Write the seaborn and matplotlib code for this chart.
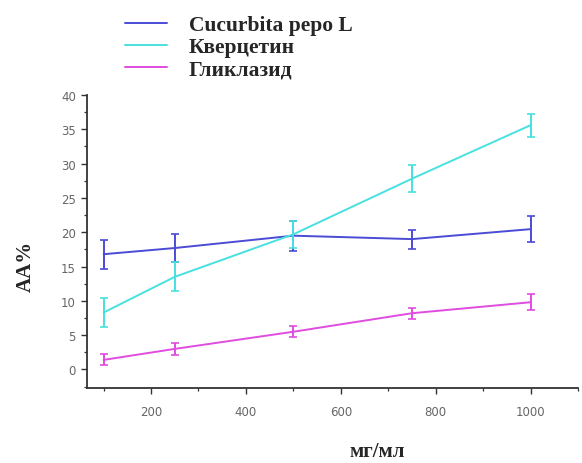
import matplotlib
matplotlib.use("Agg")
import matplotlib.pyplot as plt
import seaborn as sns
import pandas as pd
from matplotlib.ticker import MultipleLocator

# ---- data ----
conc = [100, 250, 500, 750, 1000]
series_names = ["Cucurbita pepo L", "Кверцетин", "Гликлазид"]
cucurbita = [16.8, 17.7, 19.5, 19.0, 20.45]
cucurbita_err = [2.1, 2.0, 2.2, 1.4, 1.9]
quercetin = [8.3, 13.5, 19.7, 27.8, 35.6]
quercetin_err = [2.1, 2.1, 2.0, 2.0, 1.7]
gliclazide = [1.4, 3.0, 5.5, 8.2, 9.8]
gliclazide_err = [0.8, 0.85, 0.8, 0.8, 1.2]
colors = ["#4b4bd6", "#48e0e0", "#e04ce0"]
x_label = "мг/мл"
y_label = "AA%"

values = [cucurbita, quercetin, gliclazide]
errors = [cucurbita_err, quercetin_err, gliclazide_err]

rows = []
for name, vals, errs in zip(series_names, values, errors):
    for c, v, e in zip(conc, vals, errs):
        rows.append({"conc": c, "aa": v, "err": e, "series": name})
df = pd.DataFrame(rows)

sns.set_style("white")
plt.rcParams["font.family"] = ["DejaVu Sans"]

fig = plt.figure(figsize=(5.82, 4.64), dpi=100)
ax = fig.add_axes([0.1495, 0.1616, 0.8436, 0.6315])

sns.lineplot(data=df, x="conc", y="aa", hue="series", palette=colors,
             hue_order=series_names, linewidth=1.4, ax=ax, legend=True)
for name, col in zip(series_names, colors):
    sub = df[df["series"] == name]
    ax.errorbar(sub["conc"], sub["aa"], yerr=sub["err"], fmt="none",
                ecolor=col, elinewidth=1.4, capsize=2.6, capthick=1.2)

ax.set_xlim(65, 1100)
ax.set_ylim(-2.7, 40)
ax.xaxis.set_minor_locator(MultipleLocator(100))
ax.yaxis.set_major_locator(MultipleLocator(5))
ax.yaxis.set_minor_locator(MultipleLocator(2.5))
ax.set_xticks([200, 400, 600, 800, 1000])
ax.tick_params(axis="both", which="major", direction="out", length=4, width=1,
               labelsize=8.5, labelcolor="#666666", color="#333333", pad=4,
               left=True, bottom=True)
ax.tick_params(axis="x", which="major", pad=8)
ax.tick_params(axis="both", which="minor", direction="out", length=2.5, width=0.9,
               color="#333333", left=True, bottom=True)

for s in ["top", "right"]:
    ax.spines[s].set_visible(False)
for s in ["left", "bottom"]:
    ax.spines[s].set_color("#333333")
    ax.spines[s].set_linewidth(1.3)

ax.set_xlabel("")
ax.set_ylabel("")
fig.text(0.648, 0.025, x_label, ha="center", va="center", fontsize=15,
         fontweight="bold", family="Liberation Serif")
fig.text(0.045, 0.425, y_label, ha="center", va="center", fontsize=15,
         fontweight="bold", family="Liberation Serif", rotation=90)

handles, labels = ax.get_legend_handles_labels()
leg = ax.legend(handles, labels, loc="upper left",
                bbox_to_anchor=(0.2, 0.984), bbox_transform=fig.transFigure,
                frameon=False, handlelength=1.95, handletextpad=1.0,
                labelspacing=0.1, borderaxespad=0.0,
                prop={"family": "Liberation Serif", "weight": "bold", "size": 15.5})

fig.savefig("out.png", dpi=100)
